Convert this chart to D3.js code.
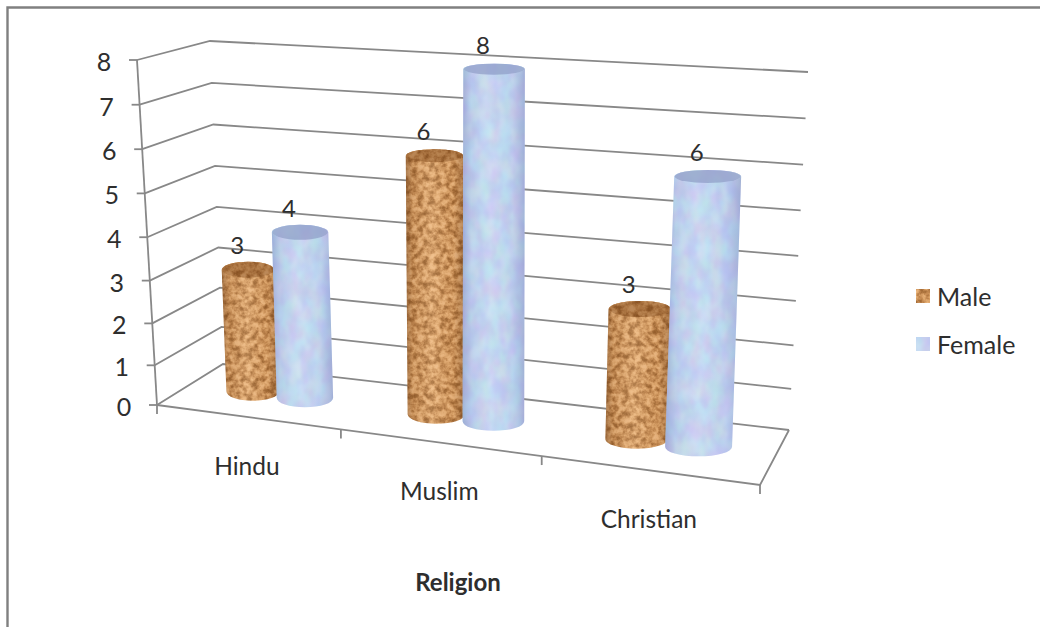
<!DOCTYPE html>
<html>
<head>
<meta charset="utf-8">
<script src="https://cdnjs.cloudflare.com/ajax/libs/d3/7.8.5/d3.min.js"></script>
<style>
    html, body { margin: 0; padding: 0; background: #fff; }
    svg { display: block; }
    text { font-family: Lato, "Open Sans", sans-serif; fill: #2e2e2e; }
</style>
</head>
<body>
<svg id="Target" width="1040" height="627"></svg>
<script>
const categories = ["Hindu", "Muslim", "Christian"];
const seriesNames = ["Male", "Female"];
const maleValues = [3, 6, 3];
const femaleValues = [4, 8, 6];
const valueTicks = [0, 1, 2, 3, 4, 5, 6, 7, 8];
const axisTitle = "Religion";

const [width, height] = [1040, 627];
const svg = d3.select("#Target");

// floor and top corners of the 3d box, on screen
const frontLeft = d3.scaleLinear().domain([0, 1]).range([[157, 405], [137, 60]]);
const backLeft = d3.scaleLinear().domain([0, 1]).range([[223, 364], [210, 41]]);
const frontRight = d3.scaleLinear().domain([0, 1]).range([[760, 485], [774, 103]]);
const backRight = d3.scaleLinear().domain([0, 1]).range([[789, 430], [808, 72]]);

// value to height, slightly stretched towards the top by the perspective
const valueScale = d3.scalePow().exponent(1.04).domain([0, 8]).range([0, 1]);
// category position to fraction of the floor width, wider on the near side
const catScale = d3.scaleLinear().domain([0, 1, 2, 3]).range([0, 0.305, 0.638, 1]);
const topRy = d3.scaleLinear().domain([0, 8]).range([9.5, 5.5]);

const mix = (a, b, t) => [a[0] + (b[0] - a[0]) * t, a[1] + (b[1] - a[1]) * t];

// c: category position, depth: 0 front to 1 back, v: value
function project(c, depth, v) {
    const h = valueScale(v);
    const t = catScale(c);
    const near = mix(frontLeft(h), frontRight(h), t);
    const far = mix(backLeft(h), backRight(h), t);
    return mix(near, far, depth);
}

// defs: textures and shading
const defs = svg.append("defs");

const cork = defs.append("filter").attr("id", "cork")
    .attr("filterUnits", "userSpaceOnUse")
    .attr("x", 0).attr("y", 0).attr("width", width).attr("height", height)
    .attr("color-interpolation-filters", "sRGB");
cork.append("feTurbulence").attr("type", "fractalNoise")
    .attr("baseFrequency", 0.17).attr("numOctaves", 3).attr("seed", 7);
cork.append("feColorMatrix").attr("type", "matrix")
    .attr("values", "1 0 0 0 0  1 0 0 0 0  1 0 0 0 0  0 0 0 0 1");
const corkTable = cork.append("feComponentTransfer");
corkTable.append("feFuncR").attr("type", "table").attr("tableValues", "0.6 0.6 0.66 0.77 0.87 0.93 0.94 0.94");
corkTable.append("feFuncG").attr("type", "table").attr("tableValues", "0.38 0.38 0.44 0.54 0.65 0.72 0.74 0.74");
corkTable.append("feFuncB").attr("type", "table").attr("tableValues", "0.18 0.18 0.23 0.32 0.42 0.5 0.53 0.53");
cork.append("feGaussianBlur").attr("stdDeviation", 0.7);
cork.append("feComposite").attr("in2", "SourceGraphic").attr("operator", "in");

const marble = defs.append("filter").attr("id", "marble")
    .attr("filterUnits", "userSpaceOnUse")
    .attr("x", 0).attr("y", 0).attr("width", width).attr("height", height)
    .attr("color-interpolation-filters", "sRGB");
marble.append("feTurbulence").attr("type", "fractalNoise")
    .attr("baseFrequency", "0.09 0.05").attr("numOctaves", 4).attr("seed", 11);
marble.append("feColorMatrix").attr("type", "matrix")
    .attr("values", "1 0 0 0 0  0 1 0 0 0  0 0 1 0 0  0 0 0 0 1");
const marbleTable = marble.append("feComponentTransfer");
marbleTable.append("feFuncR").attr("type", "table").attr("tableValues", "0.8 0.8 0.78 0.74 0.73 0.73");
marbleTable.append("feFuncG").attr("type", "table").attr("tableValues", "0.78 0.78 0.81 0.86 0.89 0.89");
marbleTable.append("feFuncB").attr("type", "table").attr("tableValues", "0.92 0.92 0.93 0.95 0.96 0.96");
marble.append("feGaussianBlur").attr("stdDeviation", 1);
marble.append("feComposite").attr("in2", "SourceGraphic").attr("operator", "in");

defs.append("filter").attr("id", "soft")
    .attr("filterUnits", "userSpaceOnUse")
    .attr("x", 0).attr("y", 0).attr("width", width).attr("height", height)
    .append("feGaussianBlur").attr("stdDeviation", 0.45);

function shade(id, stops) {
    const g = defs.append("linearGradient").attr("id", id);
    g.selectAll("stop").data(stops).join("stop")
        .attr("offset", d => d[0])
        .attr("stop-color", d => d[1])
        .attr("stop-opacity", d => d[2]);
}
shade("shadeMale", [[0, "#5a3010", 0.45], [0.12, "#5a3010", 0.12], [0.45, "#fff0d8", 0.12], [0.8, "#5a3010", 0.06], [1, "#5a3010", 0.4]]);
shade("shadeFemale", [[0, "#7880b8", 0.45], [0.14, "#8890c8", 0.14], [0.45, "#ffffff", 0.1], [0.8, "#8890c8", 0.1], [1, "#7880b8", 0.45]]);

// frame
svg.append("path")
    .attr("d", `M7.5,${height} V7.5 H${width}`)
    .attr("fill", "none")
    .attr("stroke", "#808080")
    .attr("stroke-width", 2.4);

const gridColor = "#888";
const gridWidth = 1.8;
const chart = svg.append("g").attr("filter", "url(#soft)");

// walls
chart.selectAll("path.grid")
    .data(valueTicks)
    .join("path")
    .attr("class", "grid")
    .attr("d", v => d3.line()([project(0, 0, v), project(0, 1, v), project(3, 1, v)]))
    .attr("fill", "none")
    .attr("stroke", gridColor)
    .attr("stroke-width", gridWidth);

// floor edges
chart.append("path")
    .attr("d", d3.line()([project(0, 0, 0), project(3, 0, 0), project(3, 1, 0)]))
    .attr("fill", "none")
    .attr("stroke", gridColor)
    .attr("stroke-width", gridWidth);

// value axis
chart.append("path")
    .attr("d", d3.line()([project(0, 0, 0), project(0, 0, 8)]))
    .attr("fill", "none")
    .attr("stroke", gridColor)
    .attr("stroke-width", gridWidth);

chart.selectAll("line.ytick")
    .data(valueTicks)
    .join("line")
    .attr("class", "ytick")
    .attr("x1", v => project(0, 0, v)[0])
    .attr("y1", v => project(0, 0, v)[1])
    .attr("x2", v => project(0, 0, v)[0] - 8)
    .attr("y2", v => project(0, 0, v)[1])
    .attr("stroke", gridColor)
    .attr("stroke-width", gridWidth);

// category ticks
chart.selectAll("line.xtick")
    .data([0, 1, 2, 3])
    .join("line")
    .attr("class", "xtick")
    .attr("x1", c => project(c, 0, 0)[0])
    .attr("y1", c => project(c, 0, 0)[1])
    .attr("x2", c => project(c, 0, 0)[0])
    .attr("y2", c => project(c, 0, 0)[1] + 9)
    .attr("stroke", gridColor)
    .attr("stroke-width", gridWidth);

// bars, the blue ones are a little fatter and sit over the brown ones
const maleOffset = 0.155;
const femaleOffset = 0.138;
const barHalf = 0.148;
const barDepth = 0.52;
const bars = [];
categories.forEach((name, i) => {
    bars.push({ series: 0, cat: i + 0.5 - maleOffset, value: maleValues[i], fat: 1 });
    bars.push({ series: 1, cat: i + 0.5 + femaleOffset, value: femaleValues[i], fat: 1.07 });
});

function cylinder(d) {
    const base = project(d.cat, barDepth, 0);
    const top = project(d.cat, barDepth, d.value);
    const rx = d.fat * (project(d.cat + barHalf, barDepth, 0)[0] - project(d.cat - barHalf, barDepth, 0)[0]) / 2;
    return { base, top, rx, ryBase: topRy(0), ryTop: topRy(d.value) };
}

function bodyPath(d) {
    const c = cylinder(d);
    return `M${c.top[0] - c.rx},${c.top[1]}` +
        `L${c.base[0] - c.rx},${c.base[1]}` +
        `A${c.rx},${c.ryBase} 0 0 0 ${c.base[0] + c.rx},${c.base[1]}` +
        `L${c.top[0] + c.rx},${c.top[1]}` +
        `A${c.rx},${c.ryTop} 0 0 0 ${c.top[0] - c.rx},${c.top[1]}Z`;
}

const barGroup = svg.selectAll("g.bar")
    .data(bars)
    .join("g")
    .attr("class", "bar");

barGroup.append("path")
    .attr("d", bodyPath)
    .attr("fill", "#000")
    .attr("filter", d => d.series === 0 ? "url(#cork)" : "url(#marble)");

barGroup.append("path")
    .attr("d", bodyPath)
    .attr("fill", d => d.series === 0 ? "url(#shadeMale)" : "url(#shadeFemale)");

barGroup.append("ellipse")
    .attr("cx", d => cylinder(d).top[0])
    .attr("cy", d => cylinder(d).top[1])
    .attr("rx", d => cylinder(d).rx - 0.5)
    .attr("ry", d => cylinder(d).ryTop)
    .attr("fill", "#000")
    .attr("filter", d => d.series === 0 ? "url(#cork)" : "url(#marble)");

barGroup.append("ellipse")
    .attr("cx", d => cylinder(d).top[0])
    .attr("cy", d => cylinder(d).top[1])
    .attr("rx", d => cylinder(d).rx - 0.5)
    .attr("ry", d => cylinder(d).ryTop)
    .attr("fill", d => d.series === 0 ? "#6e3c14" : "#8f9cc6")
    .attr("fill-opacity", d => d.series === 0 ? 0.4 : 0.72);

// value labels
svg.selectAll("text.value")
    .data(bars)
    .join("text")
    .attr("class", "value")
    .attr("x", d => project(d.cat, barDepth, d.value)[0] - 11)
    .attr("y", d => project(d.cat, barDepth, d.value)[1] - 25)
    .attr("text-anchor", "middle")
    .attr("dominant-baseline", "central")
    .attr("font-size", 24)
    .text(d => d.value);

// value tick labels
svg.selectAll("text.ylabel")
    .data(valueTicks)
    .join("text")
    .attr("class", "ylabel")
    .attr("x", v => project(0, 0, v)[0] - 33)
    .attr("y", v => project(0, 0, v)[1] + 1)
    .attr("text-anchor", "middle")
    .attr("dominant-baseline", "central")
    .attr("font-size", 25)
    .text(v => v);

// category labels
svg.selectAll("text.xlabel")
    .data(categories)
    .join("text")
    .attr("class", "xlabel")
    .attr("x", (d, i) => project(i + 0.5, 0, 0)[0] - 2)
    .attr("y", (d, i) => project(i + 0.5, 0, 0)[1] + 48)
    .attr("text-anchor", "middle")
    .attr("dominant-baseline", "central")
    .attr("font-size", 24.5)
    .text(d => d);

svg.append("text")
    .attr("x", 458)
    .attr("y", 581)
    .attr("text-anchor", "middle")
    .attr("dominant-baseline", "central")
    .attr("font-size", 24)
    .attr("font-weight", 700)
    .text(axisTitle);

// legend
const legendY = d3.scalePoint().domain(seriesNames).range([296, 344]);

svg.selectAll("rect.legend")
    .data(seriesNames)
    .join("rect")
    .attr("class", "legend")
    .attr("x", 916)
    .attr("y", d => legendY(d) - 7)
    .attr("width", 14)
    .attr("height", 14)
    .attr("fill", "#000")
    .attr("filter", (d, i) => i === 0 ? "url(#cork)" : "url(#marble)");

svg.selectAll("text.legend")
    .data(seriesNames)
    .join("text")
    .attr("class", "legend")
    .attr("x", 937)
    .attr("y", d => legendY(d))
    .attr("dominant-baseline", "central")
    .attr("font-size", 25)
    .text(d => d);
</script>
</body>
</html>
